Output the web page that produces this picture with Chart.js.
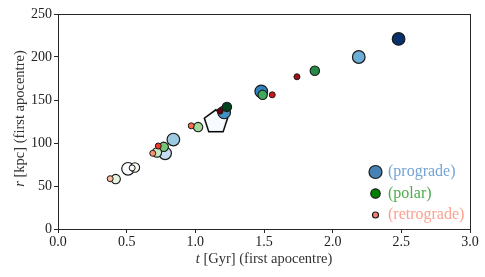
<!DOCTYPE html>
<html>
<head>
<meta charset="utf-8">
<script src="https://cdn.jsdelivr.net/npm/chart.js@4.4.1/dist/chart.umd.min.js"></script>
<style>
  body { margin: 0; background: #fff; }
  canvas { display: block; }
</style>
</head>
<body>
<canvas id="apoChart" width="485" height="277"></canvas>
<script>
// first apocentre time [Gyr] and radius [kpc], grouped by orbit type
const progradeT = [2.48, 2.19, 1.48, 1.21, 0.84, 0.78, 0.51];
const progradeR = [221, 200, 160, 135.5, 104, 88, 70];
const progradeColors = ["#08306b", "#6baed6", "#3182bd", "#4292c6", "#9ecae1", "#c6dbef", "#f7fbff"];

const polarT = [1.87, 1.49, 1.23, 1.02, 0.77, 0.72, 0.56, 0.42];
const polarR = [184, 156, 142, 118.5, 95.5, 89, 71.5, 58];
const polarColors = ["#238b45", "#41ab5d", "#00441b", "#a1d99b", "#74c476", "#c7e9c0", "#f7fcf5", "#e5f5e0"];

const retroT = [1.74, 1.56, 1.18, 0.97, 0.73, 0.69, 0.54, 0.38];
const retroR = [177, 156, 137, 120, 96.5, 88, 71, 58.5];
const retroColors = ["#a50f15", "#cb181d", "#67000d", "#fb6a4a", "#ef3b2c", "#fc9272", "#fff5f0", "#fcbba1"];

// reference object (pentagon)
const refT = [1.15];
const refR = [124.5];

const xTicks = [0, 0.5, 1.0, 1.5, 2.0, 2.5, 3.0];
const yTicks = [0, 50, 100, 150, 200, 250];

const FONT = "'Liberation Serif', 'DejaVu Serif', serif";
const EDGE = "#1a1a1a";

function toPoints(ts, rs) {
  return ts.map((t, i) => ({ x: t, y: rs[i] }));
}

function pentagonCanvas(R, fill) {
  const size = 32;
  const c = document.createElement("canvas");
  c.width = size;
  c.height = size;
  const g = c.getContext("2d");
  const cx = size / 2, cy = size / 2;
  g.beginPath();
  for (let k = 0; k < 5; k++) {
    const a = -Math.PI / 2 + k * 2 * Math.PI / 5;
    const px = cx + R * Math.cos(a), py = cy + R * Math.sin(a);
    if (k === 0) g.moveTo(px, py); else g.lineTo(px, py);
  }
  g.closePath();
  g.fillStyle = fill;
  g.fill();
  g.lineWidth = 1.5;
  g.lineJoin = "miter";
  g.strokeStyle = "#000";
  g.stroke();
  return c;
}

const legendItems = [
  { label: "(prograde)", marker: "#4682b4", r: 6.5, text: "#75a3d3" },
  { label: "(polar)", marker: "#008000", r: 4.7, text: "#4cac4c" },
  { label: "(retrograde)", marker: "#fa8072", r: 3, text: "#fca08f" },
];

const framePlugin = {
  id: "frame",
  afterDraw(chart) {
    const { ctx, chartArea: a } = chart;
    ctx.save();
    ctx.strokeStyle = "#262626";
    ctx.lineWidth = 1;
    ctx.strokeRect(Math.round(a.left) + 0.5, Math.round(a.top) + 0.5,
      Math.round(a.right - a.left), Math.round(a.bottom - a.top));

    // axis titles with italic variable
    ctx.fillStyle = "#333";
    ctx.textBaseline = "alphabetic";
    const drawTitle = (varName, rest) => {
      ctx.font = "italic 14.5px " + FONT;
      const w1 = ctx.measureText(varName).width;
      ctx.font = "14.5px " + FONT;
      const w2 = ctx.measureText(rest).width;
      const start = -(w1 + w2) / 2;
      ctx.font = "italic 14.5px " + FONT;
      ctx.textAlign = "left";
      ctx.fillText(varName, start, 0);
      ctx.font = "14.5px " + FONT;
      ctx.fillText(rest, start + w1, 0);
    };
    ctx.save();
    ctx.translate((a.left + a.right) / 2, 263);
    drawTitle("t", " [Gyr] (first apocentre)");
    ctx.restore();
    ctx.save();
    ctx.translate(24, (a.top + a.bottom) / 2 - 3);
    ctx.rotate(-Math.PI / 2);
    drawTitle("r", " [kpc] (first apocentre)");
    ctx.restore();

    // legend
    legendItems.forEach((it, i) => {
      const y = 172 + i * 21.5;
      ctx.beginPath();
      ctx.arc(375.5, y, it.r, 0, Math.PI * 2);
      ctx.fillStyle = it.marker;
      ctx.fill();
      ctx.lineWidth = 1.2;
      ctx.strokeStyle = EDGE;
      ctx.stroke();
      ctx.font = "16px " + FONT;
      ctx.textAlign = "left";
      ctx.textBaseline = "middle";
      ctx.fillStyle = it.text;
      ctx.fillText(it.label, 388, y);
    });
    ctx.restore();
  },
};

// first dataset is drawn on top
const datasets = [
  {
    data: toPoints(retroT, retroR),
    backgroundColor: retroColors,
    borderColor: EDGE,
    borderWidth: 1,
    pointRadius: 3,
  },
  {
    data: toPoints(polarT, polarR),
    backgroundColor: polarColors,
    borderColor: EDGE,
    borderWidth: 1.1,
    pointRadius: 4.7,
  },
  {
    data: toPoints(progradeT, progradeR),
    backgroundColor: progradeColors,
    borderColor: EDGE,
    borderWidth: 1.2,
    pointRadius: 6.3,
  },
  {
    data: toPoints(refT, refR),
    pointStyle: pentagonCanvas(12.2, "#f7fbff"),
    pointRadius: 12,
  },
];

new Chart(document.getElementById("apoChart"), {
  type: "scatter",
  data: { datasets },
  options: {
    responsive: false,
    animation: false,
    devicePixelRatio: 1,
    layout: { padding: { top: 14, right: 15, left: 0, bottom: 0 } },
    plugins: { legend: { display: false }, tooltip: { enabled: false } },
    scales: {
      x: {
        type: "linear",
        min: 0,
        max: 3,
        afterBuildTicks(scale) { scale.ticks = xTicks.map(v => ({ value: v })); },
        afterFit(scale) { scale.height = 48; },
        ticks: {
          color: "#222",
          font: { family: FONT, size: 14 },
          padding: 1,
          maxRotation: 0,
          callback: v => v.toFixed(1),
        },
        grid: { drawOnChartArea: false, drawTicks: true, tickLength: 4, color: "#262626" },
        border: { color: "#262626" },
      },
      y: {
        type: "linear",
        min: 0,
        max: 250,
        afterBuildTicks(scale) { scale.ticks = yTicks.map(v => ({ value: v })); },
        afterFit(scale) { scale.width = 58; },
        ticks: {
          color: "#222",
          font: { family: FONT, size: 14 },
          padding: 2,
          callback: v => String(v),
        },
        grid: { drawOnChartArea: false, drawTicks: true, tickLength: 4, color: "#262626" },
        border: { color: "#262626" },
      },
    },
  },
  plugins: [framePlugin],
});
</script>
</body>
</html>
